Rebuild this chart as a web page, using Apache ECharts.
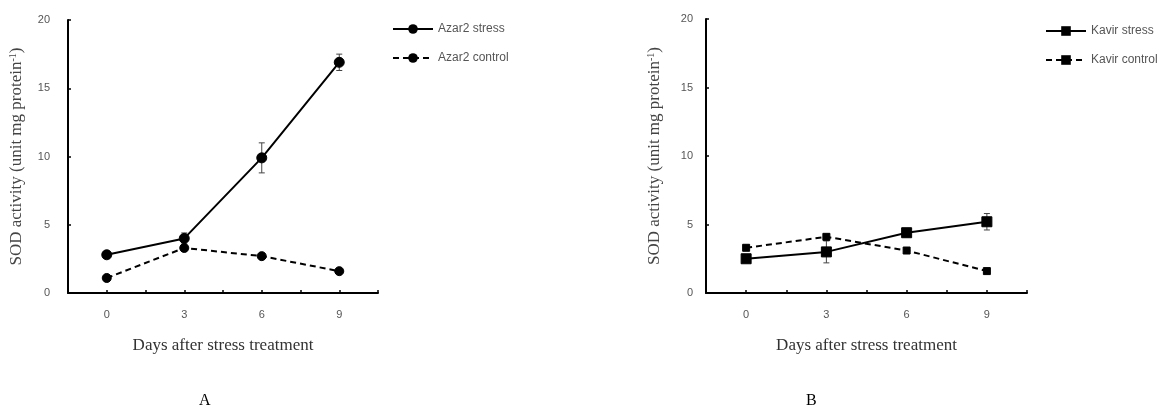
<!DOCTYPE html>
<html>
<head>
<meta charset="utf-8">
<script src="https://cdn.jsdelivr.net/npm/echarts@6/dist/echarts.min.js"></script>
<style>
html,body{margin:0;padding:0;background:#fff;}
#c{width:1164px;height:412px;}
</style>
</head>
<body>
<div id="c"></div>
<script>
// Data
const days = [0, 3, 6, 9];
const xTickLabels = ['0', '3', '6', '9'];
const azarStress = [2.8, 4.0, 9.9, 16.9];
const azarStressErr = [0.2, 0.4, 1.1, 0.6];
const azarControl = [1.1, 3.3, 2.7, 1.6];
const azarControlErr = [0.1, 0.2, 0.2, 0.1];
const kavirStress = [2.5, 3.0, 4.4, 5.2];
const kavirStressErr = [0.2, 0.8, 0.3, 0.6];
const kavirControl = [3.3, 4.1, 3.1, 1.6];
const kavirControlErr = [0.2, 0.2, 0.1, 0.1];
const seriesNames = ['Azar2 stress', 'Azar2 control', 'Kavir stress', 'Kavir control'];
const yTitle = 'SOD activity (unit mg protein{sup|-1})';
const xTitle = 'Days after stress treatment';
const panelLabels = ['A', 'B'];

const pairs = (vals) => days.map((d, i) => [d, vals[i]]);
const errPairs = (vals, errs) => days.map((d, i) => [d, vals[i], errs[i]]);

const serif = '"Liberation Serif", "DejaVu Serif", serif';
const sans = '"Liberation Sans", Arial, sans-serif';

function xAxisFor(gi) {
  return {
    type: 'value', gridIndex: gi, min: -1.5, max: 10.5, interval: 1.5,
    axisLine: {onZero: false, lineStyle: {color: '#000', width: 2}},
    axisTick: {inside: true, length: 3, lineStyle: {color: '#000', width: 1.5}},
    splitLine: {show: false},
    axisLabel: {
      color: '#555', fontSize: 11, fontFamily: sans, margin: 16,
      formatter: (v) => { const i = days.indexOf(v); return i >= 0 ? xTickLabels[i] : ''; }
    },
    name: xTitle, nameLocation: 'middle', nameGap: 44,
    nameTextStyle: {fontFamily: serif, fontSize: 17, color: '#333'}
  };
}
function yAxisFor(gi, margin) {
  return {
    type: 'value', gridIndex: gi, min: 0, max: 20, interval: 5,
    axisLine: {show: true, onZero: false, lineStyle: {color: '#000', width: 2}},
    axisTick: {show: true, inside: true, length: 3, lineStyle: {color: '#000', width: 1.5}},
    splitLine: {show: false},
    axisLabel: {color: '#555', fontSize: 11, fontFamily: sans, margin: margin},
    name: yTitle, nameLocation: 'middle', nameGap: 42,
    nameTextStyle: {
      fontFamily: serif, fontSize: 17, color: '#444',
      rich: {sup: {fontFamily: serif, fontSize: 10, color: '#444', verticalAlign: 'top', padding: [0, 0, 8, 0]}}
    }
  };
}
function lineSeries(name, gi, vals, dashed, symbol, size) {
  return {
    name: name, type: 'line', xAxisIndex: gi, yAxisIndex: gi,
    data: pairs(vals), symbol: symbol, symbolSize: size, z: 3,
    lineStyle: {color: '#000', width: 2, type: dashed ? [6, 4] : 'solid'},
    itemStyle: {color: '#000', borderColor: '#000'},
    showSymbol: true, animation: false
  };
}
function errSeries(gi, vals, errs) {
  return {
    type: 'custom', xAxisIndex: gi, yAxisIndex: gi, z: 2, animation: false,
    data: errPairs(vals, errs),
    renderItem: function (params, api) {
      const x = api.value(0), y = api.value(1), e = api.value(2);
      const t = api.coord([x, y + e]), b = api.coord([x, y - e]);
      const w = 3;
      const st = {stroke: '#444', lineWidth: 1};
      return {type: 'group', children: [
        {type: 'line', shape: {x1: t[0], y1: t[1], x2: b[0], y2: b[1]}, style: st},
        {type: 'line', shape: {x1: t[0] - w, y1: t[1], x2: t[0] + w, y2: t[1]}, style: st},
        {type: 'line', shape: {x1: b[0] - w, y1: b[1], x2: b[0] + w, y2: b[1]}, style: st}
      ]};
    }
  };
}

const chart = echarts.init(document.getElementById('c'), null, {renderer: 'canvas'});
chart.setOption({
  backgroundColor: '#fff',
  animation: false,
  title: [
    {text: panelLabels[0], left: 194, top: 388, textStyle: {fontFamily: serif, fontSize: 16, fontWeight: 'normal', color: '#000'}},
    {text: panelLabels[1], left: 801, top: 388, textStyle: {fontFamily: serif, fontSize: 16, fontWeight: 'normal', color: '#000'}}
  ],
  legend: [
    {data: [seriesNames[0], seriesNames[1]], orient: 'vertical', left: 392, top: 23, padding: 0,
     itemWidth: 40, itemHeight: 12, itemGap: 17,
     textStyle: {fontFamily: sans, fontSize: 12, color: '#555'}},
    {data: [seriesNames[2], seriesNames[3]], orient: 'vertical', left: 1045, top: 25, padding: 0,
     itemWidth: 40, itemHeight: 12, itemGap: 17,
     textStyle: {fontFamily: sans, fontSize: 12, color: '#555'}}
  ],
  grid: [
    {left: 68, top: 20, width: 310, height: 273},
    {left: 706, top: 19, width: 321, height: 274}
  ],
  xAxis: [xAxisFor(0), xAxisFor(1)],
  yAxis: [yAxisFor(0, 18), yAxisFor(1, 13)],
  series: [
    errSeries(0, azarStress, azarStressErr),
    errSeries(0, azarControl, azarControlErr),
    errSeries(1, kavirStress, kavirStressErr),
    errSeries(1, kavirControl, kavirControlErr),
    lineSeries(seriesNames[0], 0, azarStress, false, 'circle', 10),
    lineSeries(seriesNames[1], 0, azarControl, true, 'circle', 9),
    lineSeries(seriesNames[2], 1, kavirStress, false, 'rect', 10),
    lineSeries(seriesNames[3], 1, kavirControl, true, 'rect', 7)
  ]
});
</script>
</body>
</html>
